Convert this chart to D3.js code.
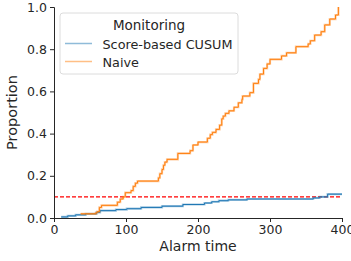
<!DOCTYPE html>
<html>
<head>
<meta charset="utf-8">
<script src="https://cdn.jsdelivr.net/npm/d3@7"></script>
<style>
  body { margin: 0; background: #fff; }
  text { font-family: "DejaVu Sans", sans-serif; fill: #262626; }
</style>
</head>
<body>
<div class="chart"></div>
<script>
// Alarm times (step starts) and cumulative proportions
const cusumTimes = [10, 19, 30, 44, 59, 64, 86, 101, 121, 150, 179, 209, 219, 229, 242, 268, 360, 369, 380, 400];
const cusumProps = [0.005, 0.01, 0.015, 0.02, 0.027, 0.035, 0.04, 0.044, 0.05, 0.056, 0.064, 0.071, 0.077, 0.082, 0.086, 0.09, 0.095, 0.1, 0.113, 0.113];

const naiveTimes = [37, 58, 60, 63, 66, 88, 92, 96, 99, 107, 110, 113, 116, 145, 147, 150, 152, 154, 157, 172, 189, 193, 200, 213, 217, 220, 225, 230, 233, 235, 238, 243, 250, 256, 261, 262, 272, 277, 284, 286, 291, 296, 300, 316, 323, 336, 353, 356, 362, 371, 376, 383, 391, 395];
const naiveProps = [0.02, 0.025, 0.03, 0.05, 0.06, 0.075, 0.09, 0.1, 0.12, 0.13, 0.15, 0.165, 0.175, 0.19, 0.21, 0.23, 0.25, 0.265, 0.278, 0.306, 0.319, 0.346, 0.36, 0.378, 0.395, 0.406, 0.42, 0.44, 0.47, 0.483, 0.496, 0.508, 0.525, 0.546, 0.562, 0.578, 0.594, 0.638, 0.657, 0.682, 0.709, 0.73, 0.752, 0.768, 0.783, 0.812, 0.825, 0.84, 0.867, 0.883, 0.915, 0.943, 0.962, 1.0];

const seriesNames = ["Score-based CUSUM", "Naive"];
const seriesColors = ["#1f77b4", "#ff7f0e"];
const threshold = 0.1;
const xTicks = [0, 100, 200, 300, 400];
const yTicks = [0, 0.2, 0.4, 0.6, 0.8, 1.0];

const margin = { top: 7, right: 9, bottom: 43, left: 54 };
const width = 351 - margin.left - margin.right;
const height = 261 - margin.top - margin.bottom;

const svg = d3.select("div.chart").append("svg")
    .attr("width", 351)
    .attr("height", 261)
    .append("g")
    .attr("transform", `translate(${margin.left},${margin.top})`);

const x = d3.scaleLinear().domain([0, 400]).range([0, width]);
const y = d3.scaleLinear().domain([0, 1]).range([height, 0]);

// threshold line
svg.append("line")
    .attr("x1", x(0)).attr("x2", x(400))
    .attr("y1", y(threshold)).attr("y2", y(threshold))
    .attr("stroke", "#ff0000")
    .attr("stroke-width", 1.1)
    .attr("stroke-dasharray", "4,2");

// step curves
const line = d3.line()
    .x(d => x(d[0]))
    .y(d => y(d[1]))
    .curve(d3.curveStepAfter);

const series = [
    d3.zip(cusumTimes, cusumProps),
    d3.zip(naiveTimes, naiveProps)
];

series.forEach((pts, i) => {
    svg.append("path")
        .datum(pts)
        .attr("fill", "none")
        .attr("stroke", seriesColors[i])
        .attr("stroke-opacity", 0.4)
        .attr("stroke-width", 2.2)
        .attr("d", line);
    svg.append("path")
        .datum(pts)
        .attr("fill", "none")
        .attr("stroke", seriesColors[i])
        .attr("stroke-width", 1)
        .attr("d", line);
});

// axes
const xAxis = svg.append("g")
    .attr("transform", `translate(0,${height})`)
    .call(d3.axisBottom(x).tickValues(xTicks).tickSize(4).tickPadding(3).tickFormat(d3.format("d")));
const yAxis = svg.append("g")
    .call(d3.axisLeft(y).tickValues(yTicks).tickSize(4).tickPadding(3).tickFormat(d3.format(".1f")));

[xAxis, yAxis].forEach(ax => {
    ax.select(".domain").attr("stroke", "#262626").attr("stroke-width", 1);
    ax.selectAll(".tick line").attr("stroke", "#262626");
    ax.selectAll(".tick text")
        .style("font-family", "DejaVu Sans, sans-serif")
        .style("font-size", "12.5px")
        .attr("fill", "#262626");
});

// axis titles
svg.append("text")
    .attr("x", width / 2)
    .attr("y", height + 33)
    .attr("text-anchor", "middle")
    .style("font-size", "14px")
    .text("Alarm time");

svg.append("text")
    .attr("transform", "rotate(-90)")
    .attr("x", -height / 2)
    .attr("y", -37)
    .attr("text-anchor", "middle")
    .style("font-size", "14.5px")
    .text("Proportion");

// legend
const legend = svg.append("g").attr("transform", `translate(${60 - margin.left},${13 - margin.top})`);
legend.append("rect")
    .attr("width", 178)
    .attr("height", 61)
    .attr("rx", 3)
    .attr("fill", "#fff")
    .attr("fill-opacity", 0.8)
    .attr("stroke", "#dcdcdc");
legend.append("text")
    .attr("x", 89)
    .attr("y", 16.5)
    .attr("text-anchor", "middle")
    .style("font-size", "13.5px")
    .text("Monitoring");
seriesNames.forEach((name, i) => {
    const ly = 30.5 + i * 18;
    legend.append("line")
        .attr("x1", 5).attr("x2", 32)
        .attr("y1", ly).attr("y2", ly)
        .attr("stroke", seriesColors[i])
        .attr("stroke-opacity", 0.5)
        .attr("stroke-width", 1.5);
    legend.append("text")
        .attr("x", 42.5)
        .attr("y", ly + 5)
        .style("font-size", "12.8px")
        .text(name);
});
</script>
</body>
</html>
